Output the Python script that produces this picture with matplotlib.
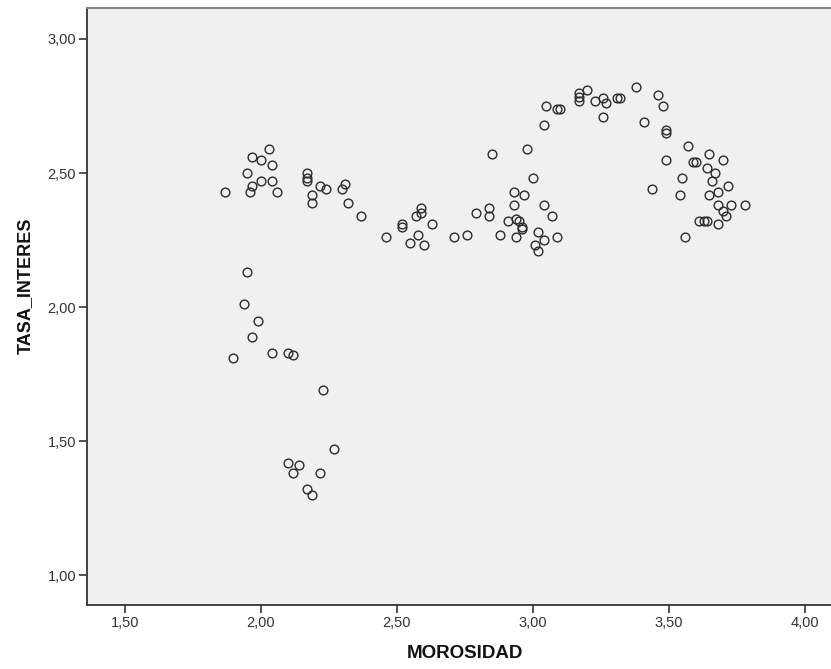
import matplotlib
matplotlib.use("Agg")
import matplotlib.pyplot as plt

# MOROSIDAD values (x)
morosidad = [
    1.87, 1.95, 1.96, 1.97, 1.97, 2.00, 2.00, 2.03, 2.04, 2.04, 2.06,
    2.17, 2.17, 2.17, 2.19, 2.19, 2.22, 2.24, 2.30, 2.31, 2.32, 2.37,
    1.95, 1.94, 1.99, 1.97, 1.90, 2.04, 2.10, 2.12, 2.23,
    2.27, 2.10, 2.14, 2.12, 2.22, 2.17, 2.19,
    2.46, 2.52, 2.52, 2.55, 2.58, 2.60, 2.57, 2.59, 2.59, 2.63, 2.71, 2.76,
    2.79, 2.84, 2.84, 2.85, 2.88, 2.91, 2.94, 2.95, 2.96, 2.96, 2.94, 2.93,
    2.93, 2.97, 2.98, 3.00, 3.04, 3.07, 3.02, 3.04, 3.01, 3.02, 3.09,
    3.04, 3.05, 3.09, 3.10, 3.17, 3.17, 3.17, 3.20, 3.23, 3.26, 3.27, 3.26,
    3.31, 3.32, 3.38, 3.41, 3.46, 3.48, 3.49, 3.49, 3.57,
    3.49, 3.65, 3.70, 3.59, 3.60, 3.64, 3.67, 3.55, 3.66, 3.44, 3.54, 3.65,
    3.68, 3.72, 3.68, 3.73, 3.78, 3.70, 3.71, 3.61, 3.63, 3.64, 3.68, 3.56,
]

# TASA_INTERES values (y)
tasa_interes = [
    2.43, 2.50, 2.43, 2.45, 2.56, 2.55, 2.47, 2.59, 2.53, 2.47, 2.43,
    2.50, 2.48, 2.47, 2.42, 2.39, 2.45, 2.44, 2.44, 2.46, 2.39, 2.34,
    2.13, 2.01, 1.95, 1.89, 1.81, 1.83, 1.83, 1.82, 1.69,
    1.47, 1.42, 1.41, 1.38, 1.38, 1.32, 1.30,
    2.26, 2.31, 2.30, 2.24, 2.27, 2.23, 2.34, 2.37, 2.35, 2.31, 2.26, 2.27,
    2.35, 2.37, 2.34, 2.57, 2.27, 2.32, 2.33, 2.32, 2.29, 2.30, 2.26, 2.43,
    2.38, 2.42, 2.59, 2.48, 2.38, 2.34, 2.28, 2.25, 2.23, 2.21, 2.26,
    2.68, 2.75, 2.74, 2.74, 2.80, 2.785, 2.77, 2.81, 2.77, 2.78, 2.76, 2.71,
    2.78, 2.78, 2.82, 2.69, 2.79, 2.75, 2.66, 2.65, 2.60,
    2.55, 2.57, 2.55, 2.54, 2.54, 2.52, 2.50, 2.48, 2.47, 2.44, 2.42, 2.42,
    2.43, 2.45, 2.38, 2.38, 2.38, 2.36, 2.34, 2.32, 2.32, 2.32, 2.31, 2.26,
]

x_ticks = [1.5, 2.0, 2.5, 3.0, 3.5, 4.0]
y_ticks = [1.0, 1.5, 2.0, 2.5, 3.0]

plt.rcParams['font.family'] = ['Liberation Sans', 'DejaVu Sans']

fig = plt.figure(figsize=(8.31, 6.69), dpi=100)
ax = fig.add_axes([0.105, 0.0952, 0.895, 0.8924])
ax.set_facecolor('#f0f0f0')

ax.plot(morosidad, tasa_interes, linestyle='none', marker='o', markersize=6.3,
        markerfacecolor='none', markeredgecolor='#2b2b2b', markeredgewidth=1.0)

ax.set_xlim(1.3625, 4.097)
ax.set_ylim(0.888, 3.1145)

ax.set_xticks(x_ticks)
ax.set_yticks(y_ticks)
ax.set_xticklabels([f"{v:.2f}".replace('.', ',') for v in x_ticks])
ax.set_yticklabels([f"{v:.2f}".replace('.', ',') for v in y_ticks])
ax.tick_params(axis='both', direction='out', length=6, width=1.2, color='#333333',
               labelsize=10.5, labelcolor='#333333', pad=2)

for side in ['left', 'bottom']:
    ax.spines[side].set_color('#333333')
    ax.spines[side].set_linewidth(1.3)
ax.spines['top'].set_color('#888888')
ax.spines['top'].set_linewidth(1.5)
ax.spines['right'].set_visible(False)

ax.set_xlabel('MOROSIDAD', fontsize=13.5, fontweight='bold', color='#111111')
ax.set_ylabel('TASA_INTERES', fontsize=13, fontweight='bold', color='#111111')
ax.xaxis.set_label_coords((464.7 - 87.3) / (831 - 87.3), -(645 - 605.3) / 597.0)
# label anchor sits on the right side of the rotated text
ax.yaxis.set_label_coords(-(87.3 - 34) / 743.7, (605.3 - 286) / 597.0)

fig.savefig('out.png', dpi=100)
